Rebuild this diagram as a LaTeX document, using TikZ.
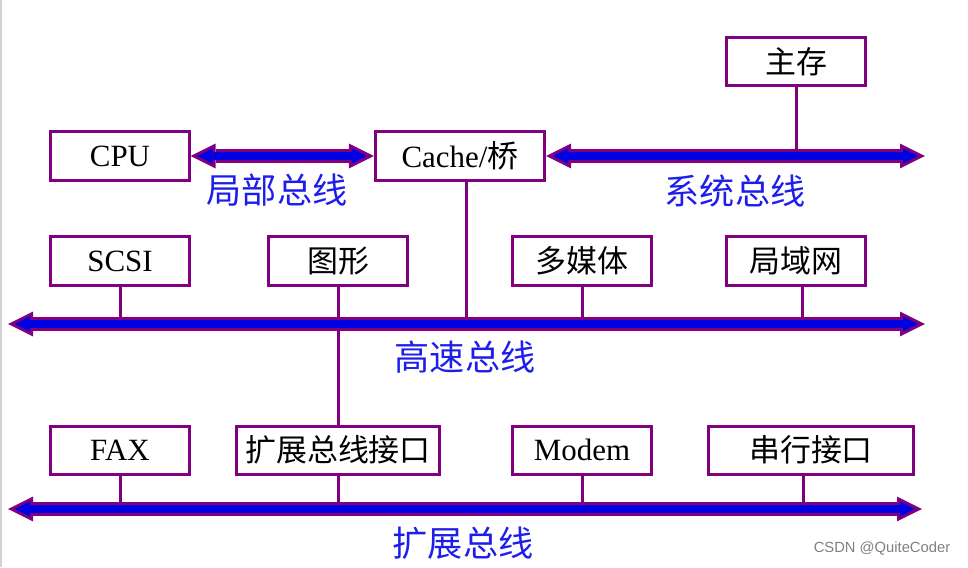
\documentclass[tikz,border=0pt]{standalone}
\usepackage{fontspec}
\setmainfont{Liberation Serif}
\newfontfamily\cjk{Noto Sans CJK SC}
\newfontfamily\markfont{Liberation Sans}
\usetikzlibrary{arrows.meta}
\definecolor{busedge}{RGB}{128,0,128}
\definecolor{busfill}{RGB}{0,0,225}
\definecolor{labelblue}{RGB}{30,30,235}
\tikzset{
    BusOut/.tip={Triangle[length=0.625cm, width=0.62cm, line width=0pt]},
    BusIn/.tip={Triangle[length=0.38cm, width=0.38cm, line width=0pt]}
}
\begin{document}
\begin{tikzpicture}[
    x=0.025cm, y=-0.025cm,
    unitbox/.style={rectangle, draw=busedge, fill=white, line width=0.075cm, minimum width=3.45cm, minimum height=1.2cm, inner sep=0pt, font=\fontsize{22}{24}\selectfont},
    buslabel/.style={text=labelblue, font=\cjk\fontsize{25}{28}\selectfont},
    tap/.style={draw=busedge, line width=0.075cm},
    bus/.style={draw=busfill, line width=0.2cm, arrows=BusIn-BusIn, shorten <=0.17cm, shorten >=0.17cm,
        preaction={draw=busedge, line width=0.37cm, arrows=BusOut-BusOut, shorten <=0pt, shorten >=0pt}}
]
    \useasboundingbox (0,0) rectangle (968,567);
    \draw[gray!35, line width=0.03cm] (1,0) -- (1,567);

    % units
    \node[unitbox] (mem) at (796,61.5) {\cjk 主存};
    \node[unitbox] (cpu) at (120,156) {CPU};
    \node[unitbox, minimum width=4.225cm] (cache) at (460,156) {Cache/{\cjk 桥}};
    \node[unitbox] (scsi) at (120,261) {SCSI};
    \node[unitbox] (graph) at (338,261) {\cjk 图形};
    \node[unitbox] (media) at (582,261) {\cjk 多媒体};
    \node[unitbox] (lan) at (796,261) {\cjk 局域网};
    \node[unitbox] (fax) at (120,450) {FAX};
    \node[unitbox, minimum width=5.075cm] (extif) at (338,450) {\cjk 扩展总线接口};
    \node[unitbox] (modem) at (582,450) {Modem};
    \node[unitbox, minimum width=5.125cm] (serial) at (811,450) {\cjk 串行接口};

    % bus ends
    \coordinate (sysR) at (925,156);
    \coordinate (hsL) at (8,324);
    \coordinate (hsR) at (925,324);
    \coordinate (exL) at (8,509);
    \coordinate (exR) at (922,509);

    % taps onto the buses
    \draw[tap] (mem.south) -- (mem.south |- sysR);
    \draw[tap] ([xshift=0.15cm]cache.south) -- ([xshift=0.15cm]cache.south |- hsL);
    \draw[tap] (scsi.south) -- (scsi.south |- hsL);
    \draw[tap] (graph.south) -- (extif.north);
    \draw[tap] (media.south) -- (media.south |- hsL);
    \draw[tap] ([xshift=0.15cm]lan.south) -- ([xshift=0.15cm]lan.south |- hsL);
    \draw[tap] (fax.south) -- (fax.south |- exL);
    \draw[tap] (extif.south) -- (extif.south |- exL);
    \draw[tap] (modem.south) -- (modem.south |- exL);
    \draw[tap] ([xshift=-0.2cm]serial.south) -- ([xshift=-0.2cm]serial.south |- exL);

    % buses
    \draw[bus] (cpu.east) -- (cpu.east -| cache.west);
    \draw[bus] (cache.east) -- (cache.east -| sysR);
    \draw[bus] (hsL) -- (hsR);
    \draw[bus] (exL) -- (exR);

    % bus names
    \node[buslabel] (localtxt) at (277,190) {局部总线};
    \node[buslabel] (systxt) at (735,191) {系统总线};
    \node[buslabel] (hstxt) at (465,357) {高速总线};
    \node[buslabel] (extxt) at (463,543) {扩展总线};

    \node[text=gray, font=\markfont\fontsize{10.5}{12}\selectfont] (mark) at (882,549) {CSDN @QuiteCoder};
\end{tikzpicture}
\end{document}
